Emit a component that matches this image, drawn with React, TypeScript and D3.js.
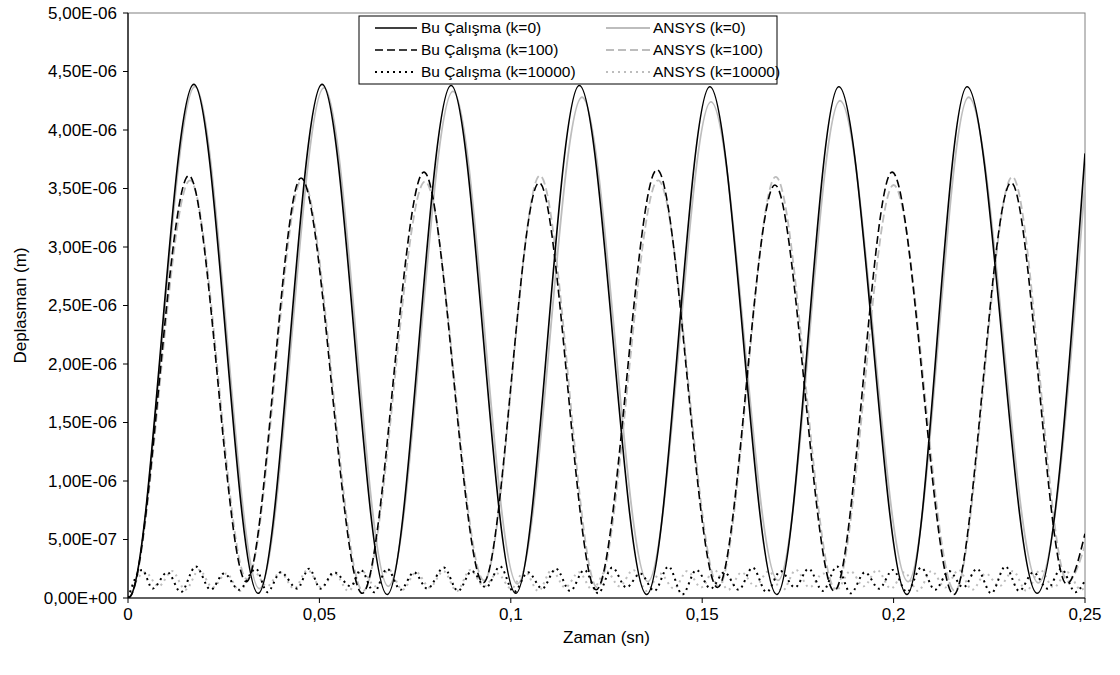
import React from 'react';
import * as d3 from 'd3';

// ---- axis ticks ----
const xTicks = [0, 0.05, 0.1, 0.15, 0.2, 0.25];
const xTickLabels = ['0', '0,05', '0,1', '0,15', '0,2', '0,25'];
const yTicks = [0, 0.5, 1, 1.5, 2, 2.5, 3, 3.5, 4, 4.5, 5]; // x 1e-6 m
const yTickLabels = ['0,00E+00', '5,00E-07', '1,00E-06', '1,50E-06', '2,00E-06', '2,50E-06', '3,00E-06', '3,50E-06', '4,00E-06', '4,50E-06', '5,00E-06'];

// ---- series (time in s, displacement in 1e-6 m) ----
const buK0T = [0, 0.0005, 0.0172, 0.0340, 0.0507, 0.0677, 0.0844, 0.1013, 0.1179, 0.1355, 0.1520, 0.1695, 0.1857, 0.2035, 0.2192, 0.2375, 0.25];
const buK0V = [0, 0.01, 4.39, 0.04, 4.39, 0.03, 4.38, 0.04, 4.38, 0.03, 4.37, 0.03, 4.37, 0.03, 4.37, 0.04, 3.8];

const ansysK0T = [0, 0.0005, 0.0175, 0.0343, 0.0512, 0.0680, 0.0849, 0.1017, 0.1186, 0.1358, 0.1523, 0.1698, 0.1860, 0.2038, 0.2196, 0.2378, 0.25];
const ansysK0V = [0, 0.01, 4.37, 0.08, 4.36, 0.10, 4.33, 0.12, 4.28, 0.14, 4.24, 0.15, 4.25, 0.14, 4.28, 0.13, 3.55];

const buK100T = [0, 0.0005, 0.0159, 0.0309, 0.0452, 0.0612, 0.0773, 0.0928, 0.1074, 0.1223, 0.1382, 0.1540, 0.1690, 0.1845, 0.1996, 0.2157, 0.2307, 0.2452, 0.25];
const buK100V = [0, 0.01, 3.61, 0.14, 3.59, 0.04, 3.64, 0.13, 3.55, 0.07, 3.66, 0.09, 3.53, 0.06, 3.64, 0.03, 3.55, 0.12, 0.55];

const ansysK100T = [0, 0.0005, 0.0162, 0.0311, 0.0455, 0.0614, 0.0776, 0.0930, 0.1076, 0.1226, 0.1385, 0.1543, 0.1692, 0.1848, 0.2000, 0.2160, 0.2310, 0.2455, 0.25];
const ansysK100V = [0, 0.01, 3.57, 0.16, 3.58, 0.06, 3.56, 0.15, 3.61, 0.09, 3.57, 0.10, 3.60, 0.08, 3.53, 0.06, 3.60, 0.14, 0.45];

const buK10000T = [0, 0.0037, 0.0064, 0.0103, 0.0138, 0.0177, 0.0216, 0.0251, 0.0290, 0.0334,
  0.0364, 0.0399, 0.0442, 0.0473, 0.0503, 0.0538, 0.0582, 0.0608, 0.0643, 0.0677,
  0.0712, 0.0747, 0.0782, 0.0825, 0.0862, 0.0898, 0.0935, 0.0972, 0.1008, 0.1045,
  0.1082, 0.1118, 0.1155, 0.1192, 0.1228, 0.1265, 0.1302, 0.1338, 0.1375, 0.1412,
  0.1448, 0.1485, 0.1522, 0.1558, 0.1595, 0.1632, 0.1668, 0.1705, 0.1742, 0.1778,
  0.1815, 0.1852, 0.1888, 0.1925, 0.1962, 0.1998, 0.2035, 0.2072, 0.2108, 0.2145,
  0.2182, 0.2218, 0.2255, 0.2292, 0.2328, 0.2365, 0.2402, 0.2438, 0.2475, 0.25];
const buK10000V = [0, 0.24, 0.08, 0.22, 0.05, 0.27, 0.07, 0.21, 0.07, 0.25,
  0.05, 0.22, 0.08, 0.25, 0.08, 0.22, 0.10, 0.24, 0.05, 0.25,
  0.07, 0.22, 0.08, 0.26, 0.06, 0.23, 0.09, 0.27, 0.05, 0.22,
  0.08, 0.25, 0.06, 0.24, 0.04, 0.26, 0.09, 0.21, 0.06, 0.27,
  0.03, 0.24, 0.08, 0.22, 0.07, 0.26, 0.05, 0.23, 0.09, 0.25,
  0.06, 0.27, 0.04, 0.22, 0.08, 0.24, 0.05, 0.26, 0.07, 0.23,
  0.09, 0.25, 0.04, 0.27, 0.06, 0.22, 0.08, 0.25, 0.05, 0.15];

const ansysK10000T = [0, 0.0045, 0.0080, 0.0115, 0.0150, 0.0186, 0.0221, 0.0257, 0.0292, 0.0328,
  0.0363, 0.0398, 0.0434, 0.0469, 0.0505, 0.0540, 0.0576, 0.0611, 0.0646, 0.0682,
  0.0717, 0.0753, 0.0788, 0.0824, 0.0859, 0.0894, 0.0930, 0.0965, 0.1001, 0.1036,
  0.1072, 0.1107, 0.1142, 0.1178, 0.1213, 0.1249, 0.1284, 0.1320, 0.1355, 0.1390,
  0.1426, 0.1461, 0.1497, 0.1532, 0.1568, 0.1603, 0.1638, 0.1674, 0.1709, 0.1745,
  0.1780, 0.1816, 0.1851, 0.1887, 0.1922, 0.1957, 0.1993, 0.2028, 0.2064, 0.2099,
  0.2135, 0.2170, 0.2205, 0.2241, 0.2276, 0.2312, 0.2347, 0.2383, 0.2418, 0.2454,
  0.2489, 0.25];
const ansysK10000V = [0, 0.22, 0.10, 0.23, 0.07, 0.24, 0.09, 0.21, 0.06, 0.23,
  0.10, 0.22, 0.08, 0.24, 0.09, 0.21, 0.06, 0.23, 0.10, 0.24,
  0.07, 0.22, 0.09, 0.23, 0.06, 0.24, 0.10, 0.21, 0.08, 0.23,
  0.06, 0.24, 0.09, 0.22, 0.07, 0.23, 0.10, 0.24, 0.06, 0.21,
  0.08, 0.23, 0.09, 0.24, 0.07, 0.22, 0.10, 0.23, 0.06, 0.24,
  0.09, 0.21, 0.07, 0.23, 0.10, 0.24, 0.08, 0.22, 0.06, 0.23,
  0.09, 0.24, 0.07, 0.21, 0.10, 0.23, 0.06, 0.24, 0.09, 0.22,
  0.07, 0.09];

const BLACK = '#000000';
const GRAY = '#bdbdbd';

const series = [
  { name: 'ANSYS (k=0)', t: ansysK0T, v: ansysK0V, color: GRAY, dash: 'none', w: 1.8 },
  { name: 'ANSYS (k=100)', t: ansysK100T, v: ansysK100V, color: GRAY, dash: '8,4', w: 1.8 },
  { name: 'ANSYS (k=10000)', t: ansysK10000T, v: ansysK10000V, color: GRAY, dash: '2,4', w: 2 },
  { name: 'Bu Çalışma (k=0)', t: buK0T, v: buK0V, color: BLACK, dash: 'none', w: 1.6 },
  { name: 'Bu Çalışma (k=100)', t: buK100T, v: buK100V, color: BLACK, dash: '8,4', w: 1.6 },
  { name: 'Bu Çalışma (k=10000)', t: buK10000T, v: buK10000V, color: BLACK, dash: '2,4', w: 2 },
];

const legendCol1 = ['Bu Çalışma (k=0)', 'Bu Çalışma (k=100)', 'Bu Çalışma (k=10000)'];
const legendCol2 = ['ANSYS (k=0)', 'ANSYS (k=100)', 'ANSYS (k=10000)'];

const FONT = '"Liberation Sans", Arial, sans-serif';

export default function App() {
  const W = 1120, H = 675;
  const left = 128, right = 1085, top = 13, bottom = 598;
  const x = d3.scaleLinear().domain([0, 0.25]).range([left, right]);
  const y = d3.scaleLinear().domain([0, 5]).range([bottom, top]);
  const line = d3.line<[number, number]>()
    .x(d => x(d[0]))
    .y(d => y(d[1]))
    .curve(d3.curveMonotoneX);

  const byName = (n: string) => series.find(s => s.name === n)!;

  return (
    <svg width={W} height={H} style={{ position: 'absolute', left: 0, top: 0, background: '#fff' }} fontFamily={FONT}>
      <defs>
        <clipPath id="plot">
          <rect x={left} y={top} width={right - left} height={bottom - top} />
        </clipPath>
      </defs>
      <rect x={0} y={0} width={W} height={H} fill="#fff" />
      {/* plot border */}
      <rect x={left} y={top} width={right - left} height={bottom - top} fill="none" stroke="#808080" strokeWidth={1} />
      {/* series */}
      <g clipPath="url(#plot)">
        {series.map(s => {
          const pts: [number, number][] = s.t.map((t, i) => [t, s.v[i]] as [number, number]).filter(p => p[1] !== undefined);
          return (
            <path key={s.name} d={line(pts) || ''} fill="none" stroke={s.color} strokeWidth={s.w}
              strokeDasharray={s.dash === 'none' ? undefined : s.dash} strokeLinejoin="round" />
          );
        })}
      </g>
      {/* axes */}
      <line x1={left} y1={top} x2={left} y2={bottom} stroke="#000" strokeWidth={1.2} />
      <line x1={left} y1={bottom} x2={right} y2={bottom} stroke="#000" strokeWidth={1.2} />
      {yTicks.map((t, i) => (
        <g key={'y' + i}>
          <line x1={left - 5} x2={left} y1={y(t)} y2={y(t)} stroke="#000" />
          <text x={left - 11} y={y(t)} dy="0.35em" textAnchor="end" fontSize={17}>{yTickLabels[i]}</text>
        </g>
      ))}
      {xTicks.map((t, i) => (
        <g key={'x' + i}>
          <line x1={x(t)} x2={x(t)} y1={bottom} y2={bottom + 5} stroke="#000" />
          <text x={x(t)} y={bottom + 22} textAnchor="middle" fontSize={17}>{xTickLabels[i]}</text>
        </g>
      ))}
      <text x={(left + right) / 2} y={bottom + 45} textAnchor="middle" fontSize={17}>Zaman (sn)</text>
      <text transform={`translate(26, ${(top + bottom) / 2}) rotate(-90)`} textAnchor="middle" fontSize={17}>Deplasman (m)</text>
      {/* legend */}
      <rect x={359} y={16} width={418} height={68} fill="#fff" stroke="#000" strokeWidth={1} />
      {legendCol1.map((n, i) => {
        const s = byName(n);
        const ly = 28 + i * 22;
        return (
          <g key={n}>
            <line x1={375} x2={417} y1={ly} y2={ly} stroke={s.color} strokeWidth={s.w}
              strokeDasharray={s.dash === 'none' ? undefined : s.dash} />
            <text x={421} y={ly} dy="0.35em" fontSize={15.5}>{n}</text>
          </g>
        );
      })}
      {legendCol2.map((n, i) => {
        const s = byName(n);
        const ly = 28 + i * 22;
        return (
          <g key={n}>
            <line x1={606} x2={650} y1={ly} y2={ly} stroke={s.color} strokeWidth={s.w}
              strokeDasharray={s.dash === 'none' ? undefined : s.dash} />
            <text x={653} y={ly} dy="0.35em" fontSize={15.5}>{n}</text>
          </g>
        );
      })}
    </svg>
  );
}
